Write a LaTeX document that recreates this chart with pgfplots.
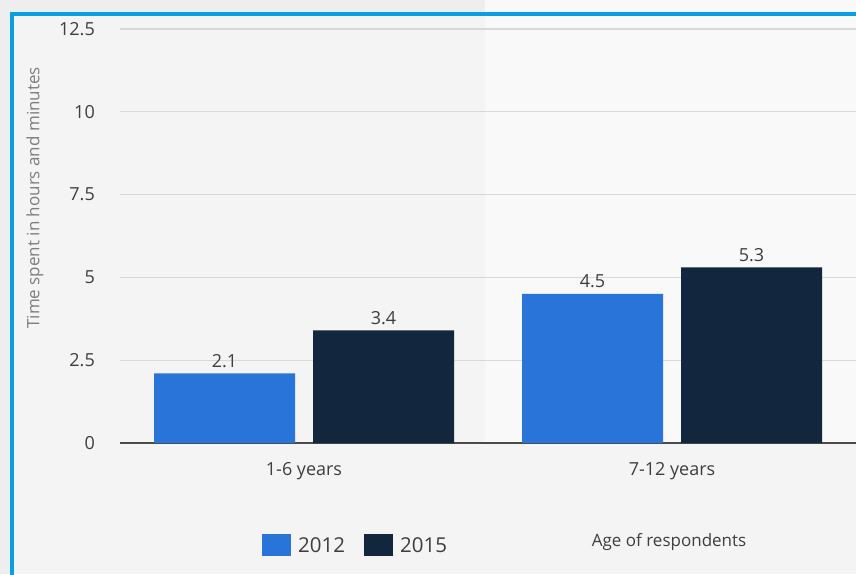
\documentclass[border=0pt]{standalone}
\usepackage{pgfplots}
\pgfplotsset{compat=1.18}
\usepackage{fontspec}
\setmainfont{Open Sans}
\definecolor{c2012}{HTML}{2874D9}
\definecolor{c2015}{HTML}{12263D}
\definecolor{frameblue}{HTML}{0A9FE2}
\definecolor{bgin}{HTML}{F4F4F4}
\definecolor{bgout}{HTML}{EEEEEE}
\definecolor{band}{HTML}{F9F9F9}
\definecolor{txt}{HTML}{3E3E3E}
\definecolor{ylab}{HTML}{7E7E7E}
\definecolor{gridc}{HTML}{D8D8D8}
\definecolor{axc}{HTML}{4A4A4A}
\begin{document}
\begin{tikzpicture}[x=1pt,y=1pt]
\fill[bgout] (0,0) rectangle (856,574);
\fill[bgin] (12,0) rectangle (856,560);
\fill[band] (485,131) rectangle (856,574);
\draw[frameblue, line width=4pt] (12,-4) -- (12,560) -- (860,560);
\begin{axis}[
  at={(120pt,131pt)}, anchor=south west,
  scale only axis, width=736pt, height=414pt,
  ybar=18pt, bar width=141pt,
  xmin=-0.5, xmax=1.5, ymin=0, ymax=12.5,
  xtick={0,1}, xticklabels={1-6 years,7-12 years},
  ytick={0,2.5,5,7.5,10,12.5},
  axis x line*=bottom, axis y line*=left,
  y axis line style={draw=none},
  x axis line style={axc, line width=1.3pt, -},
  major tick length=0pt,
  ymajorgrids, grid style={gridc, line width=1.2pt},
  /pgf/number format/assume math mode=true,
  tick label style={font=\fontsize{18}{21}\selectfont, text=txt},
  yticklabel style={anchor=east, inner sep=0pt, xshift=-25pt},
  xticklabel style={anchor=center, inner sep=0pt, yshift=-28pt},
  ylabel={Time spent in hours and minutes},
  ylabel style={at={(rel axis cs:-0.1155,0.592)}, anchor=center, inner sep=0pt, font=\fontsize{17}{20}\selectfont, text=ylab},
  xlabel={Age of respondents},
  xlabel style={at={(rel axis cs:0.746,0)}, anchor=center, inner sep=0pt, yshift=-99pt, font=\fontsize{17}{20}\selectfont, text=txt},
  nodes near coords,
  every node near coord/.append style={font=\fontsize{18}{21}\selectfont, text=txt, inner sep=0pt, anchor=base, yshift=6pt},
  legend columns=2,
  legend style={at={(rel axis cs:0.193,-0.246)}, anchor=west, draw=none, fill=none, inner sep=0pt,
    font=\fontsize{20.5}{23}\selectfont, text=txt, nodes={inner sep=0pt},
    /tikz/every odd column/.append style={column sep=7pt},
    /tikz/every even column/.append style={column sep=19pt}},
]
\addplot[fill=c2012, draw=none, legend image code/.code={\fill[c2012] (0pt,-10pt) rectangle (29pt,12pt);}] coordinates {(0,2.1) (1,4.5)};
\addplot[fill=c2015, draw=none, legend image code/.code={\fill[c2015] (0pt,-10pt) rectangle (29pt,12pt);}] coordinates {(0,3.4) (1,5.3)};
\legend{2012,2015}
\end{axis}
\pgfresetboundingbox
\useasboundingbox (0,0) rectangle (856,574);
\end{tikzpicture}
\end{document}
